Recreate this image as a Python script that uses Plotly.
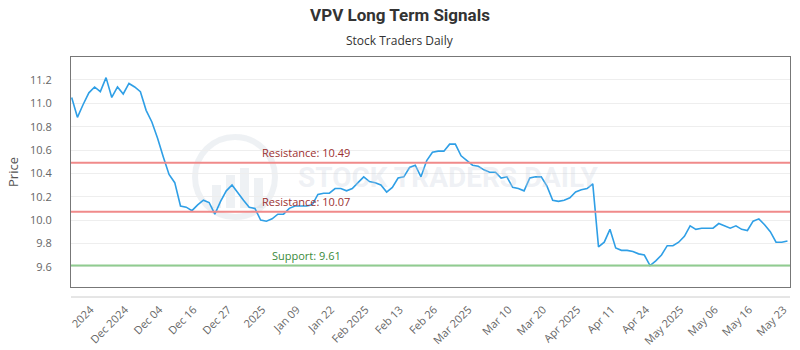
import plotly.graph_objects as go

# ---- data ----
prices = [
    11.05, 10.88, 10.99, 11.09, 11.14, 11.10, 11.22, 11.05, 11.14, 11.08,
    11.17, 11.14, 11.10, 10.94, 10.84, 10.70, 10.54, 10.39, 10.32, 10.12,
    10.11, 10.08, 10.13, 10.17, 10.15, 10.05, 10.16, 10.25, 10.30, 10.23,
    10.17, 10.11, 10.10, 10.00, 9.99, 10.01, 10.05, 10.05, 10.10, 10.12,
    10.12, 10.12, 10.13, 10.22, 10.23, 10.23, 10.27, 10.27, 10.25, 10.27,
    10.32, 10.37, 10.33, 10.32, 10.30, 10.24, 10.28, 10.36, 10.37, 10.45,
    10.47, 10.37, 10.51, 10.58, 10.59, 10.59, 10.65, 10.65, 10.55, 10.51,
    10.47, 10.46, 10.43, 10.41, 10.41, 10.36, 10.37, 10.28, 10.27, 10.25,
    10.36, 10.37, 10.37, 10.29, 10.17, 10.16, 10.17, 10.19, 10.24, 10.26,
    10.27, 10.31, 9.77, 9.81, 9.92, 9.76, 9.74, 9.74, 9.73, 9.71,
    9.70, 9.61, 9.65, 9.70, 9.78, 9.78, 9.81, 9.86, 9.95, 9.92,
    9.93, 9.93, 9.93, 9.97, 9.95, 9.93, 9.95, 9.92, 9.91, 9.99,
    10.01, 9.96, 9.90, 9.81, 9.81, 9.82,
]
x_idx = list(range(len(prices)))

tick_idx = [4, 10, 16, 22, 28, 34, 40, 46, 52, 58, 64, 70, 77, 83, 89, 95, 101, 107, 113, 119, 125]
tick_text = ["2024", "Dec 2024", "Dec 04", "Dec 16", "Dec 27", "2025", "Jan 09", "Jan 22",
             "Feb 2025", "Feb 13", "Feb 26", "Mar 2025", "Mar 10", "Mar 20", "Apr 2025",
             "Apr 11", "Apr 24", "May 2025", "May 06", "May 16", "May 23"]

resistance_levels = [10.49, 10.07]
support_levels = [9.61]

y_ticks = [9.6, 9.8, 10.0, 10.2, 10.4, 10.6, 10.8, 11.0, 11.2]

# ---- figure ----
W, H = 800, 350
ML, MR, MT, MB = 71, 10, 57, 63
PW, PH = W - ML - MR, H - MT - MB


def px(xp):
    return (xp - ML) / PW


def py(yp):
    return (H - MB - yp) / PH


fig = go.Figure()
fig.add_trace(go.Scatter(
    x=x_idx, y=prices, mode="lines",
    line=dict(color="#2f9fe6", width=1.6),
    hoverinfo="skip", showlegend=False,
))

shapes = []
annotations = []

# watermark logo and text
WM = "rgba(200,208,220,0.30)"
shapes.append(dict(type="circle", xref="paper", yref="paper",
                   x0=px(195), x1=px(275), y0=py(217), y1=py(137),
                   line=dict(color=WM, width=6), layer="below"))
for (bx, btop) in [(212, 185), (226, 175), (240, 168), (254, 178)]:
    shapes.append(dict(type="rect", xref="paper", yref="paper",
                       x0=px(bx), x1=px(bx + 9), y0=py(208), y1=py(btop),
                       fillcolor=WM, line=dict(width=0), layer="below"))
annotations.append(dict(text="<b>STOCK TRADERS DAILY</b>", xref="paper", yref="paper",
                        x=px(448), y=py(177), xanchor="center", yanchor="middle",
                        showarrow=False,
                        font=dict(family="Roboto", size=28, color=WM)))

for lv in resistance_levels:
    shapes.append(dict(type="line", xref="paper", yref="y", x0=0, x1=1, y0=lv, y1=lv,
                       line=dict(color="#f08a8a", width=2)))
    annotations.append(dict(text=f"Resistance: {lv:.2f}", xref="paper", yref="y",
                            x=px(260), y=lv, xanchor="left", yanchor="bottom",
                            yshift=1, showarrow=False,
                            font=dict(family="Open Sans", size=11, color="#9b3030")))
for lv in support_levels:
    shapes.append(dict(type="line", xref="paper", yref="y", x0=0, x1=1, y0=lv, y1=lv,
                       line=dict(color="#90cc90", width=2)))
    annotations.append(dict(text=f"Support: {lv:.2f}", xref="paper", yref="y",
                            x=px(270), y=lv, xanchor="left", yanchor="bottom",
                            yshift=1, showarrow=False,
                            font=dict(family="Open Sans", size=11, color="#3a8a3a")))

# secondary axis line under the plot
shapes.append(dict(type="line", xref="paper", yref="paper", x0=0, x1=1,
                   y0=py(297), y1=py(297), line=dict(color="#cccccc", width=1)))

annotations.append(dict(text="Stock Traders Daily", xref="paper", yref="paper",
                        x=px(400), y=py(40), xanchor="center", yanchor="middle",
                        showarrow=False,
                        font=dict(family="Open Sans", size=12, color="#333333")))

fig.update_layout(
    width=W, height=H,
    margin=dict(l=ML, r=MR, t=MT, b=MB, autoexpand=False),
    paper_bgcolor="white", plot_bgcolor="white",
    title=dict(text="<b>VPV Long Term Signals</b>", x=0.5, xanchor="center",
               y=1 - 15 / H, yanchor="middle",
               font=dict(family="Roboto", size=17, color="#333333")),
    shapes=shapes, annotations=annotations,
    xaxis=dict(range=[-0.12, 125.44], tickmode="array", tickvals=tick_idx, ticktext=tick_text,
               tickangle=-45, showgrid=False, zeroline=False, automargin=False,
               showline=True, linecolor="#777777", linewidth=1, mirror=True,
               ticks="outside", ticklen=11, tickcolor="rgba(0,0,0,0)",
               ticklabelshift=-4,
               tickfont=dict(family="Open Sans", size=11, color="#666666")),
    yaxis=dict(range=[9.426, 11.397], tickmode="array", tickvals=y_ticks,
               ticktext=[f"{v:.1f}" for v in y_ticks], automargin=False,
               showgrid=True, gridcolor="#eeeeee", gridwidth=1, zeroline=False,
               showline=True, linecolor="#777777", linewidth=1, mirror=True,
               ticks="outside", ticklen=16, tickcolor="rgba(0,0,0,0)",
               title=dict(text="Price", standoff=8,
                          font=dict(family="Open Sans", size=13, color="#555555")),
               tickfont=dict(family="Open Sans", size=11, color="#666666")),
)

fig.write_html("out.html")
